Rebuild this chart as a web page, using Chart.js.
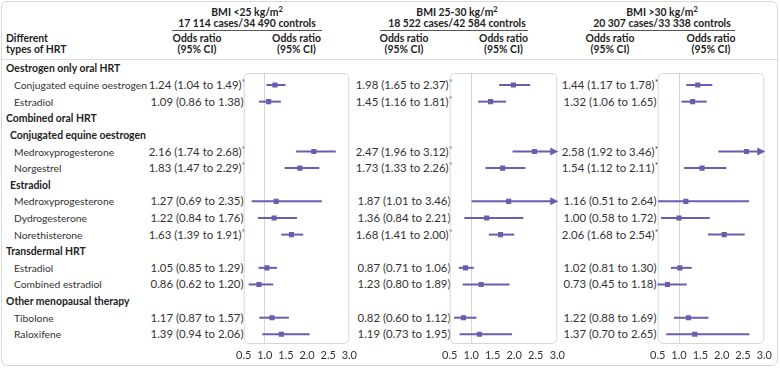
<!DOCTYPE html>
<html lang="en">

<head>
  <meta charset="UTF-8">
  <title>HRT and BMI – odds ratios</title>
  <script src="https://cdn.jsdelivr.net/npm/chart.js"></script>
  <style>
    body {
      margin: 0;
      width: 780px;
      height: 368px;
      position: relative;
      overflow: hidden;
      background: #fff;
      font-family: Lato, "Noto Sans", sans-serif;
      color: #222;
    }

    .frame {
      position: absolute;
      left: 1px;
      top: 1px;
      width: 777px;
      height: 365px;
      box-sizing: border-box;
      border: 1px solid #d8d8d8;
      border-radius: 6px;
    }

    .t {
      position: absolute;
      white-space: nowrap;
      font-size: 10.4px;
      line-height: 14px;
    }

    .item {
      font-size: 10.3px;
      color: #333;
    }

    .v {
      font-size: 11.4px;
      color: #333;
    }

    .b {
      font-weight: bold;
    }

    .c {
      transform: translateX(-50%);
      text-align: center;
    }

    sup {
      font-size: 7.5px;
      line-height: 0;
      vertical-align: 4px;
    }

    .v sup {
      font-size: 8.5px;
      vertical-align: 3px;
    }

    .rule {
      position: absolute;
      height: 0;
    }

    canvas {
      position: absolute;
    }
  </style>
</head>

<body>
  <div class="frame"></div>
  <div id="root"></div>

  <script>
    // rows of the table (kind: s = section, u = subsection, i = item)
    const rowLabels = [
      'Oestrogen only oral HRT', 'Conjugated equine oestrogen', 'Estradiol',
      'Combined oral HRT', 'Conjugated equine oestrogen', 'Medroxyprogesterone', 'Norgestrel',
      'Estradiol', 'Medroxyprogesterone', 'Dydrogesterone', 'Norethisterone',
      'Transdermal HRT', 'Estradiol', 'Combined estradiol',
      'Other menopausal therapy', 'Tibolone', 'Raloxifene'
    ];
    const rowKinds = ['s', 'i', 'i', 's', 'u', 'i', 'i', 'u', 'i', 'i', 'i', 's', 'i', 'i', 's', 'i', 'i'];

    const groupTitles = ['BMI <25 kg/m<sup>2</sup>', 'BMI 25-30 kg/m<sup>2</sup>', 'BMI >30 kg/m<sup>2</sup>'];
    const groupCounts = ['17 114 cases/34 490 controls', '18 522 cases/42 584 controls', '20 307 cases/33 338 controls'];

    // odds ratios, lower and upper 95% CI (null on heading rows)
    const orLow25 = [null, 1.24, 1.09, null, null, 2.16, 1.83, null, 1.27, 1.22, 1.63, null, 1.05, 0.86, null, 1.17, 1.39];
    const loLow25 = [null, 1.04, 0.86, null, null, 1.74, 1.47, null, 0.69, 0.84, 1.39, null, 0.85, 0.62, null, 0.87, 0.94];
    const hiLow25 = [null, 1.49, 1.38, null, null, 2.68, 2.29, null, 2.35, 1.76, 1.91, null, 1.29, 1.20, null, 1.57, 2.06];
    const sigLow25 = [0, 1, 0, 0, 0, 1, 1, 0, 0, 0, 1, 0, 0, 0, 0, 0, 0];

    const orMid = [null, 1.98, 1.45, null, null, 2.47, 1.73, null, 1.87, 1.36, 1.68, null, 0.87, 1.23, null, 0.82, 1.19];
    const loMid = [null, 1.65, 1.16, null, null, 1.96, 1.33, null, 1.01, 0.84, 1.41, null, 0.71, 0.80, null, 0.60, 0.73];
    const hiMid = [null, 2.37, 1.81, null, null, 3.12, 2.26, null, 3.46, 2.21, 2.00, null, 1.06, 1.89, null, 1.12, 1.95];
    const sigMid = [0, 1, 1, 0, 0, 1, 1, 0, 0, 0, 1, 0, 0, 0, 0, 0, 0];

    const orHigh30 = [null, 1.44, 1.32, null, null, 2.58, 1.54, null, 1.16, 1.00, 2.06, null, 1.02, 0.73, null, 1.22, 1.37];
    const loHigh30 = [null, 1.17, 1.06, null, null, 1.92, 1.12, null, 0.51, 0.58, 1.68, null, 0.81, 0.45, null, 0.88, 0.70];
    const hiHigh30 = [null, 1.78, 1.65, null, null, 3.46, 2.11, null, 2.64, 1.72, 2.54, null, 1.30, 1.18, null, 1.69, 2.65];
    const sigHigh30 = [0, 1, 0, 0, 0, 1, 1, 0, 0, 0, 1, 0, 0, 0, 0, 0, 0];

    const xTicks = [0.5, 1.0, 1.5, 2.0, 2.5, 3.0];

    const groups = [
      { or: orLow25, lo: loLow25, hi: hiLow25, sig: sigLow25 },
      { or: orMid, lo: loMid, hi: hiMid, sig: sigMid },
      { or: orHigh30, lo: loHigh30, hi: hiHigh30, sig: sigHigh30 }
    ];

    // layout
    const PURPLE = '#6a5cae';
    const ROW0 = 68.4, ROWSTEP = 16.62;
    const BOX_TOP = 73, BOX_BOTTOM = 344;
    const boxLeft = [243, 449, 657];
    const boxRight = [350, 558, 765];
    const valueCenter = [197, 404, 610];
    const titleCenter = [247, 457, 662];
    const underline = [[172, 322], [380, 528], [590, 735]];
    const PAD = 12;

    const root = document.getElementById('root');
    function addText(html, x, yc, cls) {
      const d = document.createElement('div');
      d.className = 't ' + (cls || '');
      d.innerHTML = html;
      d.style.left = x + 'px';
      d.style.top = (yc - 7) + 'px';
      root.appendChild(d);
      return d;
    }
    function addRule(x1, x2, y, color) {
      const d = document.createElement('div');
      d.className = 'rule';
      d.style.left = x1 + 'px';
      d.style.width = (x2 - x1) + 'px';
      d.style.top = y + 'px';
      d.style.borderTop = '1px solid ' + color;
      root.appendChild(d);
    }

    // header
    addText('Different', 6, 38, 'b');
    addText('types of HRT', 6, 49, 'b');
    addRule(0, 779, 59, '#dedede');
    groupTitles.forEach((title, g) => {
      addText(title, titleCenter[g], 12, 'b c');
      addText(groupCounts[g], titleCenter[g], 23, 'b c');
      addRule(underline[g][0], underline[g][1], 30, '#555');
      const mid = (boxLeft[g] + boxRight[g]) / 2;
      [valueCenter[g], mid].forEach(cx => {
        addText('Odds ratio', cx, 38, 'b c');
        addText('(95% CI)', cx, 49, 'b c');
      });
    });

    // row labels
    rowLabels.forEach((lab, i) => {
      const y = ROW0 + i * ROWSTEP;
      const kind = rowKinds[i];
      const x = kind === 's' ? 6 : kind === 'u' ? 10 : 14;
      addText(lab, x, y, kind === 'i' ? 'item' : 'b');
    });

    // value columns
    groups.forEach((gr, g) => {
      gr.or.forEach((v, i) => {
        if (v === null) return;
        const txt = v.toFixed(2) + ' (' + gr.lo[i].toFixed(2) + ' to ' + gr.hi[i].toFixed(2) + ')' +
          (gr.sig[i] ? '<sup>*</sup>' : '');
        addText(txt, valueCenter[g], ROW0 + i * ROWSTEP, 'c v');
      });
    });

    // error bars, arrows and box
    const ciPlugin = {
      id: 'ci',
      beforeDatasetsDraw(chart) {
        const { ctx, chartArea: a, scales: { x, y } } = chart;
        ctx.save();
        ctx.strokeStyle = '#d6d6d6';
        ctx.lineWidth = 1;
        ctx.beginPath();
        ctx.roundRect(a.left + 0.5, a.top + 0.5, a.right - a.left - 1, a.bottom - a.top - 1, 5);
        ctx.stroke();

        ctx.strokeStyle = PURPLE;
        ctx.fillStyle = PURPLE;
        ctx.lineWidth = 2;
        chart.data.datasets[0].data.forEach(p => {
          const py = y.getPixelForValue(p.y);
          const x1 = x.getPixelForValue(Math.max(p.lo, 0.5));
          const over = p.hi > 3.0;
          const x2 = x.getPixelForValue(Math.min(p.hi, 3.0));
          ctx.beginPath();
          ctx.moveTo(x1, py);
          ctx.lineTo(over ? x2 - 5 : x2, py);
          ctx.stroke();
          if (over) {
            ctx.beginPath();
            ctx.moveTo(x2 + 1, py);
            ctx.lineTo(x2 - 7, py - 4);
            ctx.lineTo(x2 - 7, py + 4);
            ctx.closePath();
            ctx.fill();
          }
        });
        ctx.restore();
      }
    };

    groups.forEach((gr, g) => {
      const w = boxRight[g] - boxLeft[g] + 2 * PAD;
      const h = 4 + (BOX_BOTTOM - BOX_TOP) + 20;
      const cv = document.createElement('canvas');
      cv.width = w;
      cv.height = h;
      cv.style.left = (boxLeft[g] - PAD) + 'px';
      cv.style.top = (BOX_TOP - 4) + 'px';
      cv.style.width = w + 'px';
      cv.style.height = h + 'px';
      root.appendChild(cv);

      const pts = [];
      gr.or.forEach((v, i) => {
        if (v !== null) pts.push({ x: v, y: i, lo: gr.lo[i], hi: gr.hi[i] });
      });

      new Chart(cv.getContext('2d'), {
        type: 'scatter',
        data: {
          datasets: [{
            data: pts,
            pointStyle: 'rect',
            pointRadius: 3.6,
            backgroundColor: PURPLE,
            borderWidth: 0
          }]
        },
        options: {
          responsive: false,
          animation: false,
          layout: { padding: { left: PAD, right: PAD, top: 4, bottom: 0 } },
          plugins: { legend: { display: false }, tooltip: { enabled: false } },
          scales: {
            x: {
              type: 'linear',
              min: 0.5,
              max: 3.0,
              afterBuildTicks: s => { s.ticks = xTicks.map(v => ({ value: v })); },
              afterFit: s => { s.height = 20; },
              ticks: {
                callback: v => Number(v).toFixed(1),
                font: { family: 'Lato, "Noto Sans", sans-serif', size: 11 },
                color: '#333',
                padding: 5,
                maxRotation: 0,
                autoSkip: false
              },
              grid: {
                drawTicks: false,
                lineWidth: 1,
                color: c => (c.tick && Math.abs(c.tick.value - 1) < 1e-6) ? '#d6d6d6' : 'rgba(0,0,0,0)'
              },
              border: { display: false }
            },
            y: {
              type: 'linear',
              display: false,
              reverse: true,
              min: (BOX_TOP - ROW0) / ROWSTEP,
              max: (BOX_BOTTOM - ROW0) / ROWSTEP
            }
          }
        },
        plugins: [ciPlugin]
      });
    });
  </script>

</body>

</html>
